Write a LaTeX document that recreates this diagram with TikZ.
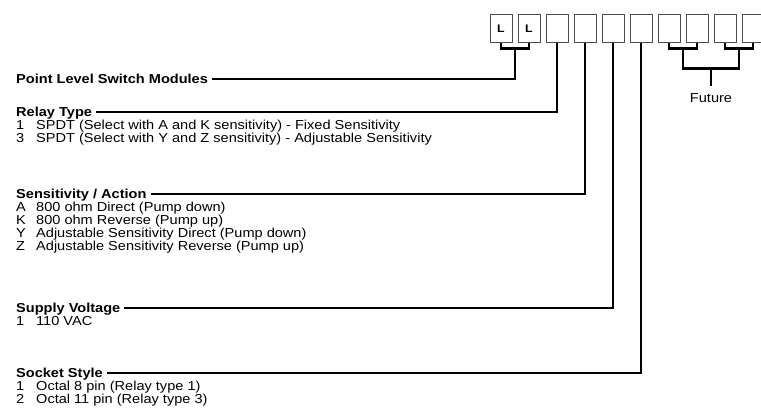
\documentclass[tikz,border=0pt]{standalone}
\usepackage{fontspec}
\setmainfont[FakeStretch=1.12]{Liberation Sans}
\usetikzlibrary{calc}
\begin{document}
\begin{tikzpicture}[x=1pt,y=-1pt]
\tikzstyle{every node}=[inner sep=0pt, anchor=west, text height=9.3pt, text depth=0pt, font=\fontsize{13}{15}\selectfont]
\tikzstyle{slot}=[draw=black!70, line width=1pt, minimum width=22pt, minimum height=28pt, text height=8pt, anchor=center, font=\bfseries\fontsize{11}{11}\selectfont]
\tikzstyle{hdr}=[font=\bfseries\fontsize{13}{15}\selectfont]
\tikzstyle{wire}=[line width=2.2pt]
\useasboundingbox (0,0) rectangle (761,413);
% order code boxes
\foreach \i/\t in {1/L,2/L,3/,4/,5/,6/,7/,8/,9/,10/}
  \node (b\i) [slot] at ({473+28*\i},28) {\t};
% point level switch modules
\node (plsm) [hdr] at (16,79) {Point Level Switch Modules};
\coordinate (jL) at ($(b1.south)!.5!(b2.south)+(0,6)$);
\draw[wire] (b1.south) -- ++(0,6) -| (b2.south);
\draw[wire] ([xshift=4pt]plsm.east) -| (jL);
% relay type
\node (rt) [hdr] at (16,112) {Relay Type};
\draw[wire] ([xshift=4pt]rt.east) -| (b3.south);
\foreach \n/\t [count=\k] in {1/{SPDT (Select with A and K sensitivity) - Fixed Sensitivity},
    3/{SPDT (Select with Y and Z sensitivity) - Adjustable Sensitivity}} {
  \node (rtn\k) at (16,{112+13*\k}) {\n};
  \node (rtt\k) at (36,{112+13*\k}) {\t};
}
% sensitivity / action
\node (sa) [hdr] at (16,194) {Sensitivity / Action};
\draw[wire] ([xshift=4pt]sa.east) -| (b4.south);
\foreach \n/\t [count=\k] in {A/{800 ohm Direct (Pump down)}, K/{800 ohm Reverse (Pump up)},
    Y/{Adjustable Sensitivity Direct (Pump down)}, Z/{Adjustable Sensitivity Reverse (Pump up)}} {
  \node (san\k) at (16,{194+13*\k}) {\n};
  \node (sat\k) at (36,{194+13*\k}) {\t};
}
% supply voltage
\node (sv) [hdr] at (16,308) {Supply Voltage};
\draw[wire] ([xshift=4pt]sv.east) -| (b5.south);
\node (svn1) at (16,321) {1};
\node (svt1) at (36,321) {110 VAC};
% socket style
\node (ss) [hdr] at (16,373) {Socket Style};
\draw[wire] ([xshift=4pt]ss.east) -| (b6.south);
\foreach \n/\t [count=\k] in {1/{Octal 8 pin (Relay type 1)}, 2/{Octal 11 pin (Relay type 3)}} {
  \node (ssn\k) at (16,{373+13*\k}) {\n};
  \node (sst\k) at (36,{373+13*\k}) {\t};
}
% future
\coordinate (jF1) at ($(b7.south)!.5!(b8.south)+(0,6)$);
\coordinate (jF2) at ($(b9.south)!.5!(b10.south)+(0,6)$);
\coordinate (jF) at ($(jF1)!.5!(jF2)+(0,20)$);
\draw[wire] (b7.south) -- ++(0,6) -| (b8.south);
\draw[wire] (b9.south) -- ++(0,6) -| (b10.south);
\draw[wire] (jF1) -- ++(0,20) -| (jF2);
\node (fut) [anchor=north] at ($(jF)+(0,24)$) {Future};
\draw[wire] (jF) -- ([yshift=7pt]fut.north);
\end{tikzpicture}
\end{document}
